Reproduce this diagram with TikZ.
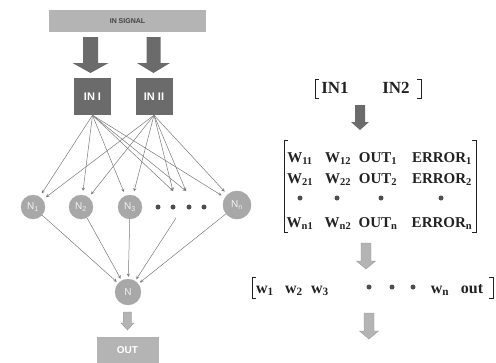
\documentclass[tikz,border=0pt]{standalone}
\usepackage{fontspec}
\setmainfont{Liberation Serif}
\newfontfamily\labfont{Liberation Sans}
\usetikzlibrary{arrows}
\definecolor{indark}{HTML}{6B6B6B}
\definecolor{inlight}{HTML}{B4B4B4}
\definecolor{cellgray}{HTML}{A8A8A8}
\definecolor{wiregray}{HTML}{7A7A7A}
\definecolor{inkgray}{HTML}{222222}
% block arrow: [style] x, top, tip, shaft half, head half, head length
\newcommand\blockarrow[7][]{%
  \path[#1] ({#2-#5},#3) -- ({#2+#5},#3) -- ({#2+#5},{#4-#7}) -- ({#2+#6},{#4-#7})
    -- (#2,#4) -- ({#2-#6},{#4-#7}) -- ({#2-#5},{#4-#7}) -- cycle;}

\begin{document}
\begin{tikzpicture}[x=1pt,y=-1pt,
  darkfill/.style={fill=indark},
  lightfill/.style={fill=inlight, draw=gray!80, line width=0.4pt},
  inbox/.style={rectangle, fill=indark, text=white, font=\labfont\bfseries\fontsize{11}{12}\selectfont,
    minimum width=37pt, minimum height=37pt, inner sep=0pt},
  outbox/.style={rectangle, fill=inlight, text=white, font=\labfont\bfseries\fontsize{10}{12}\selectfont,
    minimum width=62pt, minimum height=27pt, inner sep=0pt},
  neuron/.style={circle, fill=cellgray, draw=gray!70, line width=0.3pt, text=gray!10,
    font=\labfont\fontsize{10}{11}\selectfont, inner sep=0pt},
  bigdot/.style={circle, fill=inkgray!80, inner sep=0pt, minimum size=5pt},
  wire/.style={draw=wiregray, line width=0.5pt, -stealth, shorten >=2pt},
  cell/.style={anchor=base, text=inkgray, font=\bfseries\fontsize{15}{17}\selectfont, inner sep=0pt},
  bigcell/.style={cell, font=\bfseries\fontsize{17}{19}\selectfont},
  brack/.style={draw=inkgray, line width=0.8pt}]
  \useasboundingbox (0,0) rectangle (496,362);

  %%  network  %%%%%%%%
  \node[rectangle, fill=inlight, minimum width=157pt, minimum height=22pt, inner sep=0pt,
    text=inkgray!85, font=\labfont\bfseries\fontsize{7}{8}\selectfont] (sig) at (127.5,21) {IN SIGNAL};
  \blockarrow[darkfill]{90.5}{37}{73}{7.5}{18}{10}
  \blockarrow[darkfill]{153.5}{37}{73}{7}{16.5}{10}
  \node[inbox] (ini) at (92.5,96.5) {IN I};
  \node[inbox] (inii) at (154,96.5) {IN II};

  \node[neuron, minimum size=24pt] (n1) at (33,207) {N\textsubscript{1}};
  \node[neuron, minimum size=24pt] (n2) at (81,207) {N\textsubscript{2}};
  \node[neuron, minimum size=24pt] (n3) at (130,207) {N\textsubscript{3}};
  \node[neuron, minimum size=28pt] (nn) at (237,205) {N\textsubscript{n}};
  \node[bigdot] (d1) at (158,207) {};
  \node[bigdot] (d2) at (173,207) {};
  \node[bigdot] (d3) at (189,207) {};
  \node[bigdot] (d4) at (204,207) {};
  \coordinate (t2) at (173,191);
  \coordinate (t3) at (186,191);
  \coordinate (dd) at (176,218);

  \foreach \src in {ini,inii}
    \foreach \dst in {n1,n2,n3,nn}
      \draw[wire, shorten >=4pt] (\src.south) -- (\dst);
  \foreach \src in {ini,inii}
    \foreach \dst in {t2,t3}
      \draw[wire, shorten >=0pt] (\src.south) -- (\dst);

  \node[neuron, minimum size=26pt] (nout) at (128,292) {N};
  \foreach \src in {n1,n2,n3,dd,nn}
    \draw[wire] (\src) -- (nout);

  \blockarrow[lightfill]{127.5}{312}{330}{4.2}{6.5}{7}
  \node[outbox] (out) at (127.5,350) {OUT};

  %%  vectors  %%%%%%%%
  \node[bigcell] (in1) at (335,93) {IN1};
  \node[bigcell] (in2) at (396,93) {IN2};
  \draw[brack] (319,79) -- (315,79) -- (315,98) -- (319,98);
  \draw[brack] (417,79) -- (421,79) -- (421,98) -- (417,98);
  \blockarrow[darkfill]{360}{105}{130}{5}{9}{8}

  \node[cell] (w11) at (300,162) {W\textsubscript{11}};
  \node[cell] (w12) at (338,162) {W\textsubscript{12}};
  \node[cell] (o1) at (378,162) {OUT\textsubscript{1}};
  \node[cell] (e1) at (442,162) {ERROR\textsubscript{1}};
  \node[cell] (w21) at (300,183) {W\textsubscript{21}};
  \node[cell] (w22) at (338,183) {W\textsubscript{22}};
  \node[cell] (o2) at (378,183) {OUT\textsubscript{2}};
  \node[cell] (e2) at (442,183) {ERROR\textsubscript{2}};
  \node[bigdot] (md1) at (300,198) {};
  \node[bigdot] (md2) at (337,198) {};
  \node[bigdot] (md3) at (381,198) {};
  \node[bigdot] (md4) at (441,198) {};
  \node[cell] (wn1) at (300,227) {W\textsubscript{n1}};
  \node[cell] (wn2) at (338,227) {W\textsubscript{n2}};
  \node[cell] (on) at (378,227) {OUT\textsubscript{n}};
  \node[cell] (en) at (442,227) {ERROR\textsubscript{n}};
  \draw[brack, line width=0.6pt] (288,140) -- (284,140) -- (284,232) -- (288,232);
  \draw[brack, line width=0.6pt] (472,140) -- (476,140) -- (476,232) -- (472,232);

  \blockarrow[lightfill]{366}{243}{269}{5}{9.5}{8}

  \node[cell, font=\bfseries\fontsize{16}{18}\selectfont] (v1) at (265,293) {w\textsubscript{1}};
  \node[cell, font=\bfseries\fontsize{16}{18}\selectfont] (v2) at (294,293) {w\textsubscript{2}};
  \node[cell, font=\bfseries\fontsize{16}{18}\selectfont] (v3) at (320,293) {w\textsubscript{3}};
  \node[bigdot] (vd1) at (369,287) {};
  \node[bigdot] (vd2) at (392,287) {};
  \node[bigdot] (vd3) at (413,287) {};
  \node[cell, font=\bfseries\fontsize{16}{18}\selectfont] (vn) at (440,293) {w\textsubscript{n}};
  \node[cell, font=\bfseries\fontsize{16}{18}\selectfont] (vo) at (472,293) {out};
  \draw[brack] (256,277) -- (252,277) -- (252,298) -- (256,298);
  \draw[brack] (489,277) -- (493,277) -- (493,298) -- (489,298);

  \blockarrow[lightfill]{369}{313}{339}{5}{9.5}{8}
\end{tikzpicture}
\end{document}
